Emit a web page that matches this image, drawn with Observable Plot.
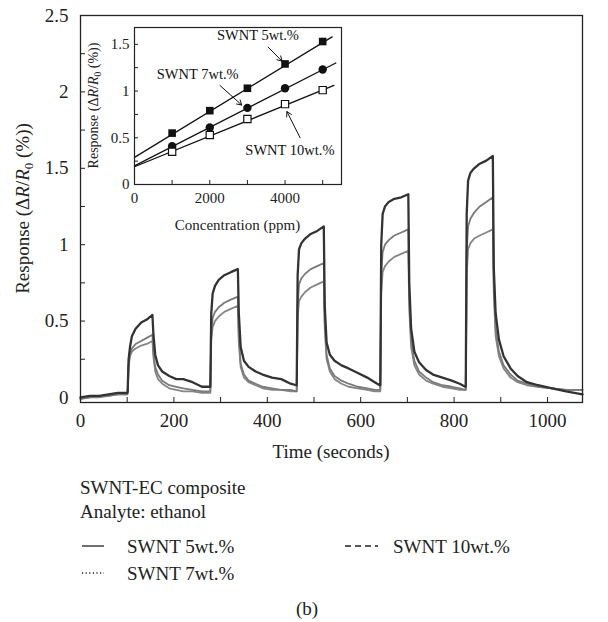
<!DOCTYPE html>
<html><head><meta charset="utf-8">
<script src="https://cdn.jsdelivr.net/npm/d3@7"></script>
<script src="https://cdn.jsdelivr.net/npm/@observablehq/plot@0.6"></script>
<style>
body{margin:0;background:#fff;}
#wrap{position:relative;width:608px;height:622px;font-family:'Liberation Serif','DejaVu Serif',serif;color:#222;overflow:hidden;}
.t{position:absolute;font-size:19px;line-height:19px;white-space:nowrap;}
.abs{position:absolute;}
</style></head><body><div id="wrap"></div>
<script>
// ---------- DATA ----------
const seriesNames = ["SWNT 5wt.%", "SWNT 7wt.%", "SWNT 10wt.%"];
const time = [0,20,40,60,80,100,
  101,103,106,110,118,130,142,154, 156,160,166,175,190,205,220,240,260,277,
  278,280,283,288,296,308,322,337, 339,343,350,360,375,390,410,430,450,462,
  463,465,468,473,481,493,507,521, 523,527,534,544,559,574,594,614,630,641,
  642,644,647,652,660,672,687,702, 704,708,715,725,740,755,775,795,812,824,
  825,827,830,835,843,855,869,883, 885,889,896,906,921,936,956,980,1010,1040,1075];
const swnt5 = [0.00,0.01,0.01,0.02,0.03,0.03,
  0.04,0.25,0.33,0.40,0.45,0.49,0.51,0.54, 0.42,0.28,0.21,0.17,0.14,0.12,0.12,0.10,0.07,0.07,
  0.07,0.55,0.68,0.73,0.77,0.80,0.82,0.84, 0.55,0.33,0.24,0.20,0.17,0.15,0.13,0.12,0.09,0.08,
  0.08,0.80,0.97,1.01,1.04,1.07,1.09,1.12, 0.60,0.36,0.28,0.24,0.21,0.19,0.16,0.13,0.10,0.08,
  0.08,1.00,1.20,1.25,1.28,1.30,1.31,1.33, 0.75,0.45,0.30,0.23,0.18,0.15,0.13,0.11,0.09,0.07,
  0.07,1.20,1.42,1.47,1.50,1.53,1.55,1.58, 0.85,0.55,0.38,0.27,0.19,0.14,0.10,0.08,0.06,0.04,0.02];
const swnt7 = [-0.01,0.00,0.01,0.01,0.02,0.02,
  0.03,0.22,0.29,0.32,0.35,0.37,0.39,0.41, 0.30,0.20,0.15,0.11,0.08,0.07,0.06,0.05,0.04,0.04,
  0.04,0.42,0.52,0.56,0.59,0.62,0.64,0.66, 0.40,0.22,0.15,0.11,0.09,0.07,0.06,0.05,0.05,0.04,
  0.04,0.60,0.74,0.78,0.81,0.84,0.86,0.88, 0.50,0.28,0.19,0.14,0.11,0.09,0.07,0.06,0.05,0.05,
  0.05,0.80,0.95,1.00,1.03,1.06,1.08,1.10, 0.65,0.38,0.24,0.17,0.13,0.10,0.08,0.07,0.06,0.05,
  0.05,0.95,1.12,1.17,1.21,1.25,1.28,1.31, 0.75,0.45,0.30,0.21,0.15,0.11,0.09,0.07,0.06,0.05,0.05];
const swnt10 = [-0.01,0.00,0.00,0.01,0.02,0.02,
  0.03,0.20,0.27,0.30,0.32,0.34,0.35,0.37, 0.27,0.17,0.12,0.09,0.06,0.05,0.04,0.04,0.03,0.03,
  0.03,0.38,0.46,0.50,0.53,0.56,0.58,0.60, 0.36,0.20,0.13,0.10,0.08,0.06,0.05,0.05,0.04,0.04,
  0.04,0.52,0.63,0.66,0.69,0.72,0.74,0.76, 0.45,0.25,0.17,0.12,0.09,0.07,0.06,0.05,0.04,0.04,
  0.04,0.68,0.82,0.86,0.89,0.92,0.94,0.96, 0.58,0.33,0.21,0.15,0.11,0.09,0.07,0.06,0.05,0.05,
  0.05,0.80,0.97,1.01,1.04,1.06,1.08,1.10, 0.68,0.40,0.27,0.19,0.13,0.10,0.08,0.07,0.06,0.05,0.05];
const xTicks = [0,200,400,600,800,1000];
const xTickMarks = [100,200,300,400,500,600,700,800,900,1000];
const yTicks = [0,0.5,1,1.5,2,2.5];
const yTickMarks = [0.25,0.5,0.75,1,1.25,1.5,1.75,2,2.25];

// inset
const conc = [1000,2000,3000,4000,5000];
const inset5 = [0.55,0.79,1.03,1.29,1.53];
const inset7 = [0.41,0.61,0.82,1.03,1.23];
const inset10 = [0.35,0.53,0.70,0.86,1.01];
const fitConc5 = [0,5250], fitVal5 = [0.29,1.58];
const fitConc7 = [0,5350], fitVal7 = [0.20,1.30];
const fitConc10 = [0,5300], fitVal10 = [0.19,1.06];
const insetXTicks = [0,2000,4000];
const insetXTickMarks = [1000,2000,3000,4000,5000];
const insetYTicks = [0,0.5,1,1.5];
const insetYTickMarks = [0.25,0.5,0.75,1,1.25,1.5];
const annLabelX = [3280,1680,4130], annLabelY = [1.60,1.18,0.36];
const annX1 = [3550,2270,4400], annY1 = [1.47,1.06,0.50];
const annX2 = [3920,2850,4050], annY2 = [1.32,0.85,0.78];

// ---------- BUILD ----------
const FONT = "'Liberation Serif','DejaVu Serif',serif";
const mk = vals => time.map((t,j)=>({t, v: vals[j]}));
const wrap = document.getElementById("wrap");

const W=608, H=465, mL=80, mR=26, mT=15, mB=63;
const iw=W-mL-mR, ih=H-mT-mB;
const main = Plot.plot({
  width:W, height:H, marginLeft:mL, marginRight:mR, marginTop:mT, marginBottom:mB,
  x:{domain:[0,1075]}, y:{domain:[-0.033,2.5]},
  style:{fontFamily:FONT, fontSize:"19px", color:"#222", background:"transparent"},
  marks:[
    Plot.line(mk(swnt10),{x:"t",y:"v",stroke:"#858585",strokeWidth:1.8}),
    Plot.line(mk(swnt7),{x:"t",y:"v",stroke:"#7a7a7a",strokeWidth:1.8}),
    Plot.line(mk(swnt5),{x:"t",y:"v",stroke:"#333",strokeWidth:2.3}),
    Plot.tickX(xTickMarks,{x:d=>d, insetTop:ih-5, stroke:"#222"}),
    Plot.tickY(yTickMarks,{y:d=>d, insetRight:iw-5, stroke:"#222"}),
    Plot.axisX(xTicks,{tickSize:0, tickPadding:11, label:null, tickFormat:d=>String(d)}),
    Plot.axisY(yTicks,{tickSize:0, tickPadding:12, label:null, tickFormat:d=>String(d)}),
    Plot.frame({stroke:"#222", strokeWidth:1.3})
  ]
});
main.style.position="absolute"; main.style.left="0px"; main.style.top="0px";
wrap.appendChild(main);
const ms = d3.select(main);
ms.append("text").attr("x", mL+iw/2).attr("y",458).attr("text-anchor","middle")
  .attr("font-size",19).attr("fill","#222").text("Time (seconds)");
function respLabel(sel, fs, sub){
  sel.append("tspan").text("Response (Δ");
  sel.append("tspan").attr("font-style","italic").text("R");
  sel.append("tspan").text("/");
  sel.append("tspan").attr("font-style","italic").text("R");
  sel.append("tspan").attr("dy",sub).attr("font-size",fs*0.68).text("0");
  sel.append("tspan").attr("dy",-sub).text(" (%))");
}
respLabel(ms.append("text").attr("transform",`translate(29,${mT+ih/2}) rotate(-90)`)
  .attr("text-anchor","middle").attr("font-size",19).attr("fill","#222"), 19, 4);

// inset
const W2=270, H2=225, mL2=53, mR2=10, mT2=11, mB2=57;
const iw2=W2-mL2-mR2, ih2=H2-mT2-mB2;
const ann = seriesNames.map((s,i)=>({label:s, lx:annLabelX[i], ly:annLabelY[i], x1:annX1[i], y1:annY1[i], x2:annX2[i], y2:annY2[i]}));
const pts = vals => conc.map((c,j)=>({c, v: vals[j]}));
const fit = (cs,vs) => cs.map((c,j)=>({c, v: vs[j]}));
const inset = Plot.plot({
  width:W2, height:H2, marginLeft:mL2, marginRight:mR2, marginTop:mT2, marginBottom:mB2,
  x:{domain:[0,5500]}, y:{domain:[0,1.68]},
  style:{fontFamily:FONT, fontSize:"15px", color:"#222", background:"transparent", overflow:"visible"},
  marks:[
    Plot.line(fit(fitConc5,fitVal5),{x:"c",y:"v",stroke:"#111",strokeWidth:1.3}),
    Plot.line(fit(fitConc7,fitVal7),{x:"c",y:"v",stroke:"#111",strokeWidth:1.3}),
    Plot.line(fit(fitConc10,fitVal10),{x:"c",y:"v",stroke:"#111",strokeWidth:1.3}),
    Plot.dot(pts(inset5),{x:"c",y:"v",symbol:"square",fill:"#111",r:4.3}),
    Plot.dot(pts(inset7),{x:"c",y:"v",symbol:"circle",fill:"#111",r:4.2}),
    Plot.dot(pts(inset10),{x:"c",y:"v",symbol:"square",fill:"white",stroke:"#111",strokeWidth:1.2,r:4.1}),
    Plot.arrow(ann,{x1:"x1",y1:"y1",x2:"x2",y2:"y2",stroke:"#111",strokeWidth:1,headLength:8}),
    Plot.text(ann,{x:"lx",y:"ly",text:"label",fontSize:14.5,fill:"#111"}),
    Plot.tickX(insetXTickMarks,{x:d=>d, insetTop:ih2-4, stroke:"#222"}),
    Plot.tickY(insetYTickMarks,{y:d=>d, insetRight:iw2-4, stroke:"#222"}),
    Plot.axisX(insetXTicks,{tickSize:0, tickPadding:8, label:null, tickFormat:d=>String(d)}),
    Plot.axisY(insetYTicks,{tickSize:0, tickPadding:5, label:null, tickFormat:d=>String(d)}),
    Plot.frame({stroke:"#222", strokeWidth:1.2})
  ]
});
inset.style.position="absolute"; inset.style.left="81px"; inset.style.top="16px";
wrap.appendChild(inset);
const is = d3.select(inset);
is.append("text").attr("x", mL2+iw2/2).attr("y",214).attr("text-anchor","middle")
  .attr("font-size",15).attr("fill","#222").text("Concentration (ppm)");
respLabel(is.append("text").attr("transform",`translate(17,${mT2+ih2/2}) rotate(-90)`)
  .attr("text-anchor","middle").attr("font-size",14).attr("fill","#222"), 14, 3);

// legend / caption
function txt(s, left, top, center){
  const d=document.createElement("div"); d.className="t"; d.textContent=s;
  d.style.top=top+"px";
  if(center){ d.style.left=(left-100)+"px"; d.style.width="200px"; d.style.textAlign="center"; }
  else d.style.left=left+"px";
  wrap.appendChild(d);
}
txt("SWNT-EC composite", 80, 478);
txt("Analyte: ethanol", 80, 502);
txt(seriesNames[0], 127, 537);
txt(seriesNames[2], 393, 537);
txt(seriesNames[1], 127, 564);
txt("(b)", 307, 599, true);
const lg = d3.select(wrap).append("svg").attr("class","abs").style("left","0px").style("top","0px")
  .attr("width",608).attr("height",622).style("pointer-events","none");
const legendLines = [
  {x1:82,x2:104,y:546,dash:null},
  {x1:82,x2:104,y:573,dash:"1.2,2.4"},
  {x1:345,x2:378,y:546,dash:"6,4"}
];
legendLines.forEach(l=>{
  lg.append("line").attr("x1",l.x1).attr("x2",l.x2).attr("y1",l.y).attr("y2",l.y)
    .attr("stroke","#222").attr("stroke-width",1.3).attr("stroke-dasharray",l.dash);
});
</script>
</body></html>
